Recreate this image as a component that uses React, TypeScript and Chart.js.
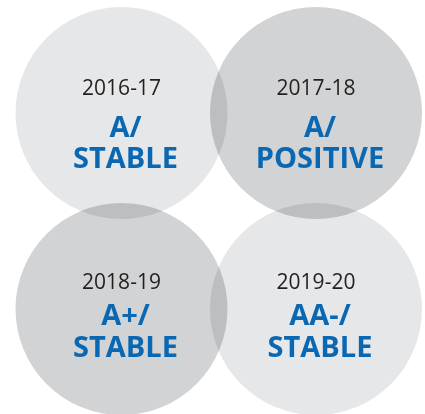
import React, { useEffect, useRef } from "react";
import { Chart, registerables } from "chart.js";

Chart.register(...registerables);

const years = ["2016-17", "2017-18", "2018-19", "2019-20"];
const ratingLine1 = ["A/", "A/", "A+/", "AA-/"];
const ratingLine2 = ["STABLE", "POSITIVE", "STABLE", "STABLE"];
const cols = [0, 1, 0, 1];
const rows = [0, 0, 1, 1];
const fills = ["#e6e7e8", "#d1d3d4", "#d1d3d4", "#e6e7e8"];

const circleRadius = 106;

const multiplyPlugin = {
  id: "multiplyBlend",
  beforeDatasetsDraw(chart: any) {
    chart.ctx.save();
    chart.ctx.globalCompositeOperation = "multiply";
  },
  afterDatasetsDraw(chart: any) {
    chart.ctx.restore();
  },
};

const labelPlugin = {
  id: "circleLabels",
  afterDraw(chart: any) {
    const ctx = chart.ctx;
    const meta = chart.getDatasetMeta(0);
    ctx.save();
    ctx.textAlign = "center";
    ctx.textBaseline = "alphabetic";
    meta.data.forEach((el: any, i: number) => {
      const cx = el.x;
      const cy = el.y;
      const bottom = rows[i] === 1;
      ctx.fillStyle = "#231f20";
      ctx.font = '400 21px "Open Sans"';
      ctx.fillText(years[i], cx, cy + (bottom ? -20 : -18));
      ctx.fillStyle = "#0a67b2";
      ctx.font = '700 29px "Open Sans"';
      ctx.fillText(ratingLine1[i], cx + 4, cy + (bottom ? 16 : 24));
      ctx.fillText(ratingLine2[i], cx + 4, cy + (bottom ? 48 : 55));
    });
    ctx.restore();
  },
};

export default function App() {
  const ref = useRef<HTMLCanvasElement>(null);
  useEffect(() => {
    document.body.style.margin = "0";
    const chart = new Chart(ref.current!, {
      type: "bubble",
      data: {
        datasets: [
          {
            data: years.map((_, i) => ({ x: cols[i], y: rows[i], r: circleRadius })),
            backgroundColor: fills,
            borderWidth: 0,
            hoverRadius: 0,
            clip: false,
          } as any,
        ],
      },
      options: {
        animation: false,
        responsive: false,
        events: [],
        layout: { padding: 0, autoPadding: false },
        plugins: { legend: { display: false }, tooltip: { enabled: false } },
        scales: {
          x: { display: false, min: -0.6247, max: 1.5604 },
          y: { display: false, reverse: true, min: -0.5765, max: 1.5357 },
        },
      } as any,
      plugins: [multiplyPlugin, labelPlugin],
    });
    return () => chart.destroy();
  }, []);
  return (
    <div style={{ width: 425, height: 414, background: "#fff" }}>
      <canvas ref={ref} width={425} height={414} style={{ display: "block" }} />
    </div>
  );
}
